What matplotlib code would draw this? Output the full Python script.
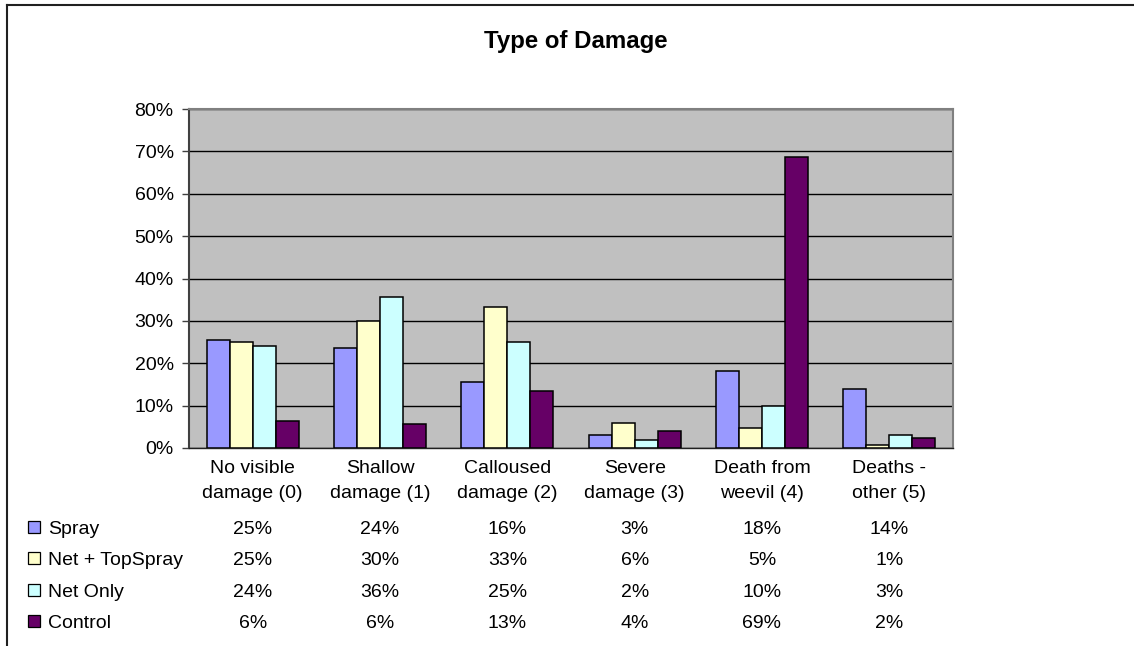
import matplotlib
matplotlib.use("Agg")
import matplotlib.pyplot as plt
from matplotlib.patches import Rectangle
from matplotlib.lines import Line2D
import matplotlib.transforms as mtransforms
import numpy as np

plt.rcParams['font.family'] = ['Liberation Sans', 'DejaVu Sans']

title = "Type of Damage"
categories = ["No visible\ndamage (0)", "Shallow\ndamage (1)", "Calloused\ndamage (2)",
              "Severe\ndamage (3)", "Death from\nweevil (4)", "Deaths -\nother (5)"]
series_names = ["Spray", "Net + TopSpray", "Net Only", "Control"]
spray = [25.4, 23.6, 15.6, 3.1, 18.1, 14.0]
net_topspray = [25.1, 29.9, 33.3, 6.0, 4.7, 0.7]
net_only = [24.1, 35.6, 25.1, 1.9, 10.0, 3.1]
control = [6.3, 5.6, 13.4, 4.0, 68.6, 2.4]
colors = ["#9999FF", "#FFFFCC", "#CCFFFF", "#660066"]
yticks = [0, 10, 20, 30, 40, 50, 60, 70, 80]

series = [spray, net_topspray, net_only, control]

W, H = 1134, 646
FS = 14.0
fig = plt.figure(figsize=(W / 100, H / 100), dpi=100)
fig.patch.set_facecolor("white")

# axes position in pixels
L, R, T, B = 189, 953, 109, 448
ax = fig.add_axes([L / W, 1 - B / H, (R - L) / W, (B - T) / H])
ax.set_facecolor("#C0C0C0")

x = np.arange(len(categories))
bw = 0.181
for i, (vals, c) in enumerate(zip(series, colors)):
    ax.bar(x + (i - 1.5) * bw, vals, width=bw, color=c, edgecolor="black",
           linewidth=1.1, zorder=3)

ax.set_xlim(-0.5, len(categories) - 0.5)
ax.set_ylim(0, 80)
ax.set_yticks(yticks)
ax.set_yticklabels([f"{t}%" for t in yticks], fontsize=FS)
ax.set_xticks([])
ax.yaxis.grid(True, color="black", linewidth=1.0, zorder=1)
ax.set_axisbelow(True)
ax.tick_params(axis="y", direction="out", length=5, width=1, color="#404040", pad=6)
for s in ["top", "right"]:
    ax.spines[s].set_color("#808080")
    ax.spines[s].set_linewidth(1.5)
ax.spines["left"].set_color("#404040")
ax.spines["left"].set_linewidth(1.5)
ax.spines["bottom"].set_color("#202020")
ax.spines["bottom"].set_linewidth(1.0)

# title
fig.text(576 / W, 1 - 48 / H, title, ha="center", va="baseline",
         fontsize=17.3, fontweight="bold")

# data table below
trans = mtransforms.blended_transform_factory(ax.transData, fig.transFigure)
for xi, cat in zip(x, categories):
    l1, l2 = cat.split("\n")
    ax.text(xi, 1 - 473 / H, l1, transform=trans, ha="center", va="baseline",
            fontsize=FS, clip_on=False)
    ax.text(xi, 1 - 498 / H, l2, transform=trans, ha="center", va="baseline",
            fontsize=FS, clip_on=False)

row_baselines = [534, 565, 597, 628]
for name, vals, c, yb in zip(series_names, series, colors, row_baselines):
    yc = yb - 7
    fig.add_artist(Rectangle((28 / W, 1 - (yc + 6) / H), 12 / W, 12 / H,
                             transform=fig.transFigure, facecolor=c,
                             edgecolor="black", linewidth=0.9))
    fig.text(48 / W, 1 - yb / H, name, ha="left", va="baseline", fontsize=FS)
    for xi, v in zip(x, vals):
        ax.text(xi, 1 - yb / H, f"{int(v + 0.5)}%", transform=trans,
                ha="center", va="baseline", fontsize=FS, clip_on=False)

# outer chart frame (left and top edges visible)
fig.add_artist(Line2D([7 / W, 7 / W], [0, 1 - 5 / H], transform=fig.transFigure,
                      color="#202020", linewidth=1.5))
fig.add_artist(Line2D([7 / W, 1], [1 - 5 / H, 1 - 5 / H], transform=fig.transFigure,
                      color="#202020", linewidth=1.5))

fig.savefig("out.png", dpi=100, facecolor="white")
